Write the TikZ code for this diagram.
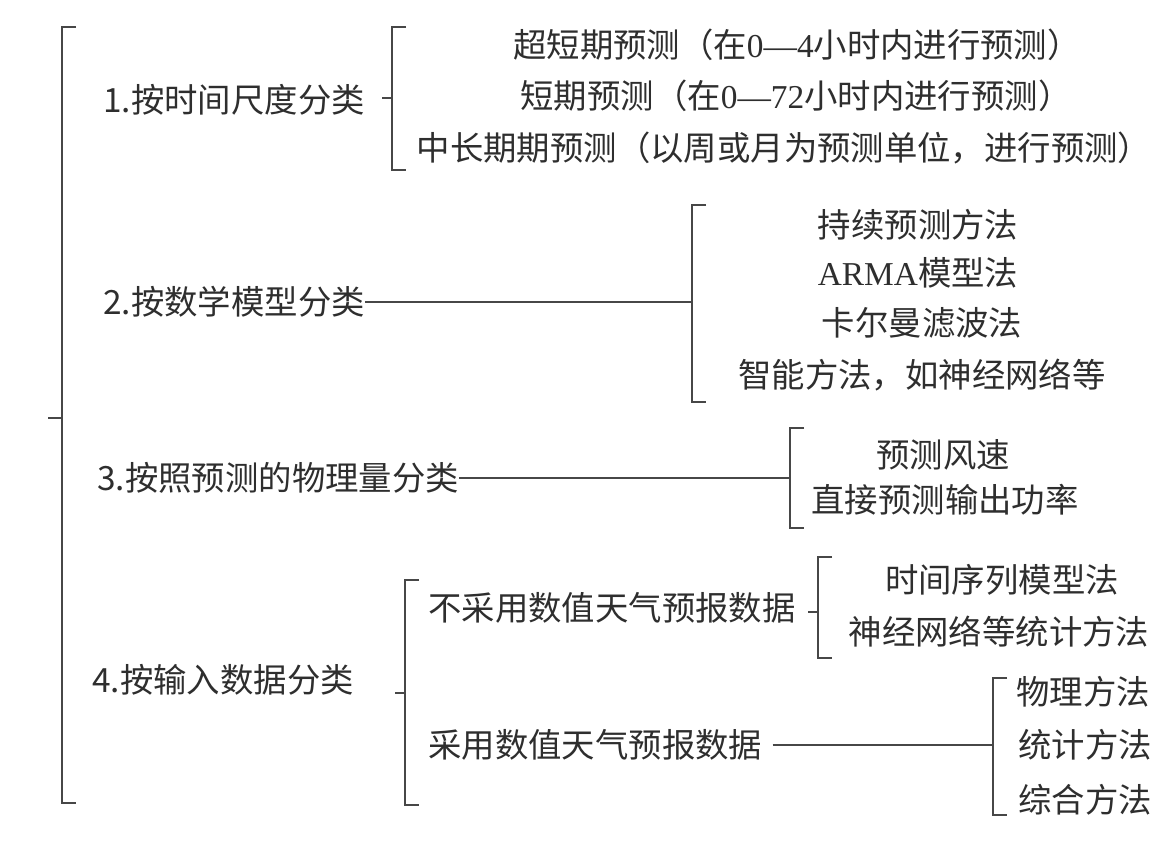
\documentclass[tikz,border=0pt]{standalone}
\usepackage{fontspec}
\setmainfont{Noto Sans CJK SC}
\newfontfamily\latf{Liberation Serif}
\usepackage{tikz}

% bracket: name, x, top, bottom, middle
\newcommand{\brk}[5]{%
\draw[brk] (#2+14,#3) -- (#2,#3) -- (#2,#4) -- (#2+14,#4);
\draw[brk] (#2,#5) -- (#2-10,#5);
\coordinate (#1) at (#2-10,#5);
}

\begin{document}
\begin{tikzpicture}[x=0.02cm,y=-0.02cm,
  brk/.style={line width=1.3pt,draw=black!72},
  every node/.style={font=\fontsize{19}{23}\selectfont,text=black!82,inner sep=0pt}]
\useasboundingbox (0,0) rectangle (1175,843);

% outer bracket
\draw[brk] (76,27) -- (62,27) -- (62,803) -- (76,803);
\draw[brk] (62,418) -- (48,418);
\coordinate (b0) at (48,418);

% 1
\node[anchor=west] (c1) at (103,100) {1.按时间尺度分类};
\brk{b1}{392}{27}{170}{98}
\node (t11) at (797,45) {超短期预测（在{\latf 0—4}小时内进行预测）};
\node (t12) at (796,96) {短期预测（在{\latf 0—72}小时内进行预测）};
\node (t13) at (784,148) {中长期期预测（以周或月为预测单位，进行预测）};

% 2
\node[anchor=west] (c2) at (103,302) {2.按数学模型分类};
\brk{b2}{692}{205}{402}{302}
\draw[brk] (c2.east) -- (b2);
\node (t21) at (918,225) {持续预测方法};
\node (t22) at (918,273) {{\latf ARMA}模型法};
\node (t23) at (922,323) {卡尔曼滤波法};
\node (t24) at (922,375) {智能方法，如神经网络等};

% 3
\node[anchor=west] (c3) at (97,478) {3.按照预测的物理量分类};
\brk{b3}{790}{428}{528}{478}
\draw[brk] (c3.east) -- (b3);
\node (t31) at (943,455) {预测风速};
\node (t32) at (945,500) {直接预测输出功率};

% 4
\node[anchor=west] (c4) at (92,680) {4.按输入数据分类};
\brk{b4}{405}{580}{805}{693}
\node[anchor=west] (n1) at (428,608) {不采用数值天气预报数据};
\node[anchor=west] (n2) at (428,745) {采用数值天气预报数据};
\brk{b5}{818}{557}{658}{612}
\node (t41) at (1002,580) {时间序列模型法};
\node (t42) at (999,632) {神经网络等统计方法};
\brk{b6}{993}{678}{815}{745}
\draw[brk] ([xshift=0.2cm]n2.east) -- (b6);
\node (t51) at (1083,692) {物理方法};
\node (t52) at (1085,745) {统计方法};
\node (t53) at (1085,800) {综合方法};
\end{tikzpicture}
\end{document}
